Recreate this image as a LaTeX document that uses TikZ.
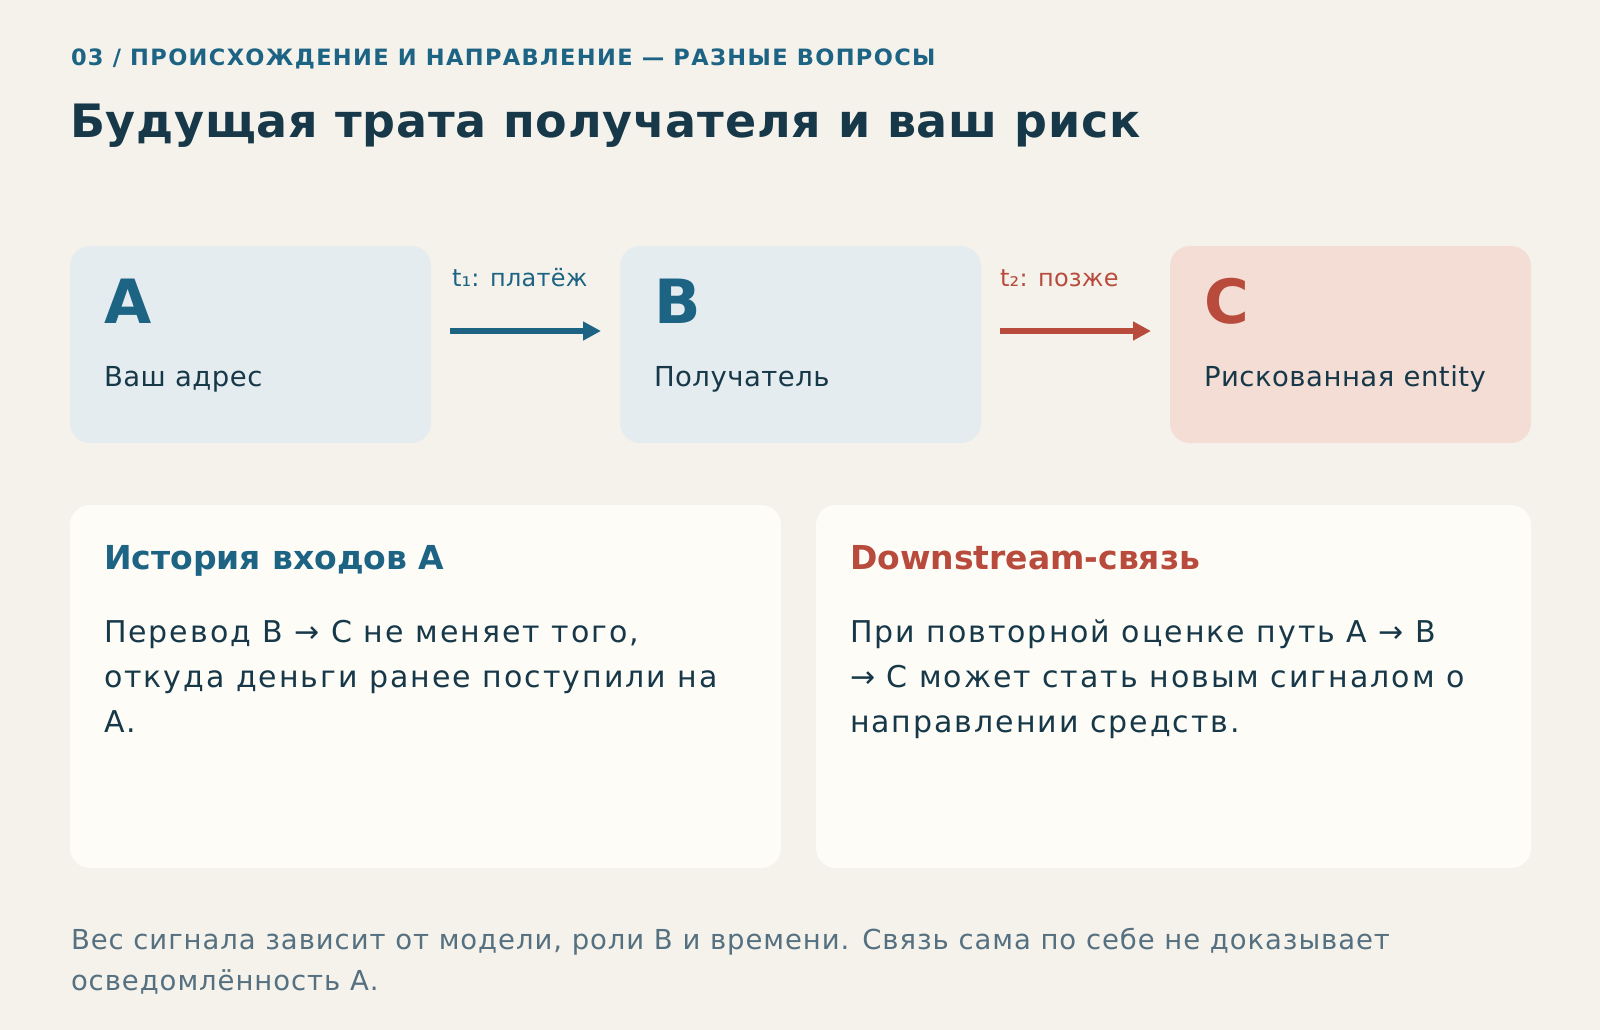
\documentclass[tikz,border=0pt]{standalone}
\usepackage{fontspec}
\setmainfont{DejaVu Sans}
\usetikzlibrary{arrows.meta}

\definecolor{pagebg}{HTML}{F5F2EB}
\definecolor{inkblue}{HTML}{1C6384}
\definecolor{inkdark}{HTML}{173848}
\definecolor{inkred}{HTML}{B84B3C}
\definecolor{inkgrey}{HTML}{557080}
\definecolor{boxblue}{HTML}{E4ECEF}
\definecolor{boxred}{HTML}{F3DDD5}
\definecolor{cardbg}{HTML}{FDFCF7}

\newcommand{\fsz}[3]{\fontsize{#1}{#2}\selectfont\addfontfeature{LetterSpace=#3}}

\begin{document}
\begin{tikzpicture}[x=1pt,y=-1pt,
  every node/.style={inner sep=0pt,outer sep=0pt},
  txt/.style={anchor=base west,align=left},
  entity/.style={anchor=north west,rounded corners=20pt,minimum width=361pt,minimum height=197pt},
  card/.style={anchor=north west,fill=cardbg,rounded corners=20pt,minimum height=363pt},
  flow/.style={line width=6pt,-{Triangle[length=18pt,width=18pt]}}]
  \fill[pagebg] (0,0) rectangle (1600,1030);
  % Header
  \node[txt,inkblue,font=\bfseries\fsz{22.5}{27}{6.0}] (kicker) at (71,66)
        {03 / ПРОИСХОЖДЕНИЕ И НАПРАВЛЕНИЕ — РАЗНЫЕ ВОПРОСЫ};
  \node[txt,inkdark,font=\bfseries\fsz{46}{55}{1.7}] (title) at (70,137)
        {Будущая трата получателя и ваш риск};
  % Top row: A -> B -> C
  \node[entity,fill=boxblue] (A) at (70,246) {};
  \node[entity,fill=boxblue] (B) at (620,246) {};
  \node[entity,fill=boxred]  (C) at (1170,246) {};
  \node[txt,inkblue,font=\bfseries\fsz{61}{70}{0}] (Aletter) at (104,323) {A};
  \node[txt,inkblue,font=\bfseries\fsz{61}{70}{0}] (Bletter) at (654,323) {B};
  \node[txt,inkred,font=\bfseries\fsz{61}{70}{0}]  (Cletter) at (1204,323) {C};
  \node[txt,inkdark,font=\fsz{27.5}{32}{1.8}] (Alabel) at (104,386) {Ваш адрес};
  \node[txt,inkdark,font=\fsz{27.5}{32}{1.8}] (Blabel) at (654,386) {Получатель};
  \node[txt,inkdark,font=\fsz{27.5}{32}{1.8}] (Clabel) at (1204,386) {Рискованная entity};
  \draw[flow,inkblue] ([xshift=19pt,yshift=13.5pt]A.east) -- ([xshift=-19pt,yshift=13.5pt]B.west);
  \draw[flow,inkred]  ([xshift=19pt,yshift=13.5pt]B.east) -- ([xshift=-19pt,yshift=13.5pt]C.west);
  \node[txt,inkblue,font=\fsz{24}{29}{1}] (t1) at (452,286) {t₁: платёж};
  \node[txt,inkred,font=\fsz{24}{29}{1}]  (t2) at (1000,286) {t₂: позже};
  % Bottom cards
  \node[card,minimum width=711pt] (hist) at (70,505) {};
  \node[card,minimum width=715pt] (down) at (816,505) {};
  \node[txt,inkblue,font=\bfseries\fsz{33}{38}{0}] (histhead) at (104,569) {История входов А};
  \node[txt,inkred,font=\bfseries\fsz{33}{38}{0}]  (downhead) at (850,569) {Downstream-связь};
  % multi-line texts: base is the last line
  \node[txt,inkdark,font=\fsz{30}{45}{6.6}] (histbody) at (104,732)
        {Перевод В → С не меняет того,\\откуда деньги ранее поступили на\\А.};
  \node[txt,inkdark,font=\fsz{30}{45}{6.6}] (downbody) at (850,732)
        {При повторной оценке путь А → В\\→ С может стать новым сигналом о\\направлении средств.};
  % Footer
  \node[txt,inkgrey,font=\fsz{27.5}{41}{3.4}] (note) at (71,990)
        {Вес сигнала зависит от модели, роли В и времени. Связь сама по себе не доказывает\\осведомлённость А.};
\end{tikzpicture}
\end{document}
